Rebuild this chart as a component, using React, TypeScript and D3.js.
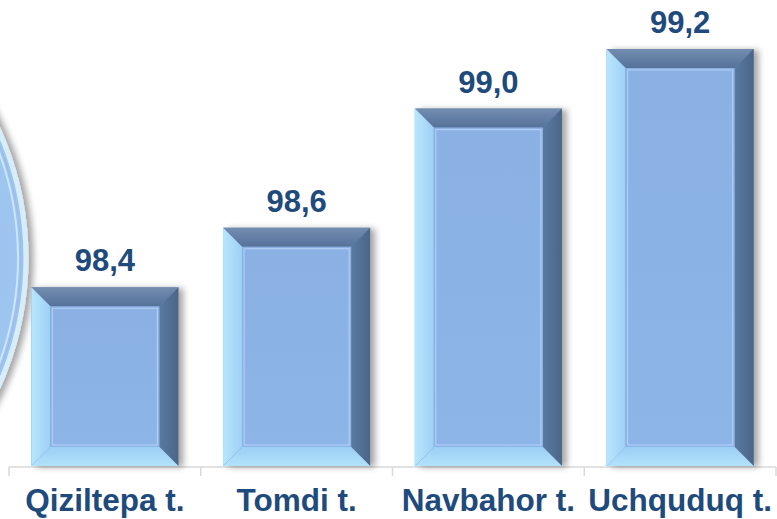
import React from 'react'
import * as d3 from 'd3'

const categories = ['Qiziltepa t.', 'Tomdi t.', 'Navbahor t.', 'Uchquduq t.']
const values = [98.4, 98.6, 99.0, 99.2]
const valueLabels = ['98,4', '98,6', '99,0', '99,2']

const W = 777
const H = 519
const bottom = 466
const bevel = 19
const textColor = '#1F4A7C'
const font = '"Liberation Sans", Arial, sans-serif'

const App = () => {
  const x = d3.scaleBand<string>()
    .domain(categories)
    .range([9, 776])
    .paddingInner(0.233)
    .paddingOuter(0.1165)

  const y = d3.scaleLinear()
    .domain([97.8, 99.2])
    .range([bottom, 49])

  const step = x.step()
  const gap = step * x.paddingInner()
  // band boundaries for the tick marks
  const edges = categories.map(c => (x(c) as number) - gap / 2).concat([x.range()[1]])

  // the round decoration sticking in from the left edge
  const circle = { cx: -287, cy: 258, r: 313 }

  return (
    <svg width={W} height={H} style={{ position: 'absolute', left: 0, top: 0, background: '#fff' }}>
      <defs>
        <filter id="shadow" x="-20%" y="-20%" width="140%" height="140%">
          <feDropShadow dx="5" dy="1" stdDeviation="3" floodColor="#000" floodOpacity="0.35" />
        </filter>
        <linearGradient id="topBevel" x1="0" y1="0" x2="0" y2="1">
          <stop offset="0" stopColor="#738DB0" />
          <stop offset="1" stopColor="#56729A" />
        </linearGradient>
        <linearGradient id="leftBevel" x1="0" y1="0" x2="1" y2="0">
          <stop offset="0" stopColor="#B8E6FC" />
          <stop offset="1" stopColor="#9ED0F6" />
        </linearGradient>
        <linearGradient id="rightBevel" x1="0" y1="0" x2="1" y2="0">
          <stop offset="0" stopColor="#5A7AA2" />
          <stop offset="1" stopColor="#4A6588" />
        </linearGradient>
        <linearGradient id="bottomBevel" x1="0" y1="0" x2="0" y2="1">
          <stop offset="0" stopColor="#9CCEF4" />
          <stop offset="1" stopColor="#B2E2FB" />
        </linearGradient>
        <linearGradient id="face" x1="0" y1="0" x2="0" y2="1">
          <stop offset="0" stopColor="#8AB0E4" />
          <stop offset="1" stopColor="#8DB5E8" />
        </linearGradient>
        <radialGradient id="disc" cx="0.7" cy="0.5" r="0.6">
          <stop offset="0" stopColor="#94BBEC" />
          <stop offset="0.85" stopColor="#A6CDF3" />
          <stop offset="1" stopColor="#BBDEF8" />
        </radialGradient>
      </defs>

      <g filter="url(#shadow)">
        <circle cx={circle.cx} cy={circle.cy} r={circle.r} fill="url(#disc)" stroke="#D6EEFB" strokeWidth={5} />
      </g>
      <circle cx={circle.cx} cy={circle.cy} r={circle.r - 5} fill="none" stroke="#9DBBE6" strokeWidth={1.2} />
      <circle cx={circle.cx} cy={circle.cy} r={circle.r - 8} fill="none" stroke="#C9E7FA" strokeWidth={2} />

      <g stroke="#D9D9D9" strokeWidth={1.5}>
        <line x1={x.range()[0]} x2={x.range()[1]} y1={bottom + 1} y2={bottom + 1} />
        {edges.map((e, i) => (
          <line key={i} x1={e} x2={e} y1={bottom + 1} y2={bottom + 10} />
        ))}
      </g>

      {categories.map((c, i) => {
        const x0 = x(c) as number
        const x1 = x0 + x.bandwidth()
        const y0 = y(values[i])
        const y1 = bottom
        const b = bevel
        const pts = (p: number[][]) => p.map(q => q.join(',')).join(' ')
        return (
          <g key={c}>
            <rect x={x0} y={y0} width={x1 - x0} height={y1 - y0} fill="#6F8DB5" filter="url(#shadow)" />
            <polygon points={pts([[x0, y0], [x1, y0], [x1 - b, y0 + b], [x0 + b, y0 + b]])} fill="url(#topBevel)" />
            <polygon points={pts([[x0, y0], [x0 + b, y0 + b], [x0 + b, y1 - b], [x0, y1]])} fill="url(#leftBevel)" />
            <polygon points={pts([[x1, y0], [x1, y1], [x1 - b, y1 - b], [x1 - b, y0 + b]])} fill="url(#rightBevel)" />
            <polygon points={pts([[x0, y1], [x0 + b, y1 - b], [x1 - b, y1 - b], [x1, y1]])} fill="url(#bottomBevel)" />
            <rect x={x0 + b} y={y0 + b} width={x1 - x0 - 2 * b} height={y1 - y0 - 2 * b} fill="url(#face)" />
            <rect x={x0 + b + 2} y={y0 + b + 2} width={x1 - x0 - 2 * b - 4} height={y1 - y0 - 2 * b - 4}
              fill="none" stroke="#AFCEF4" strokeWidth={1.2} />
            <text x={(x0 + x1) / 2} y={y0 - 16} textAnchor="middle" fontFamily={font} fontWeight="bold"
              fontSize={31} fill={textColor}>{valueLabels[i]}</text>
            <text x={(x0 + x1) / 2} y={511} textAnchor="middle" fontFamily={font} fontWeight="bold"
              fontSize={31.5} fill={textColor}>{c}</text>
          </g>
        )
      })}
    </svg>
  )
}

export default App
